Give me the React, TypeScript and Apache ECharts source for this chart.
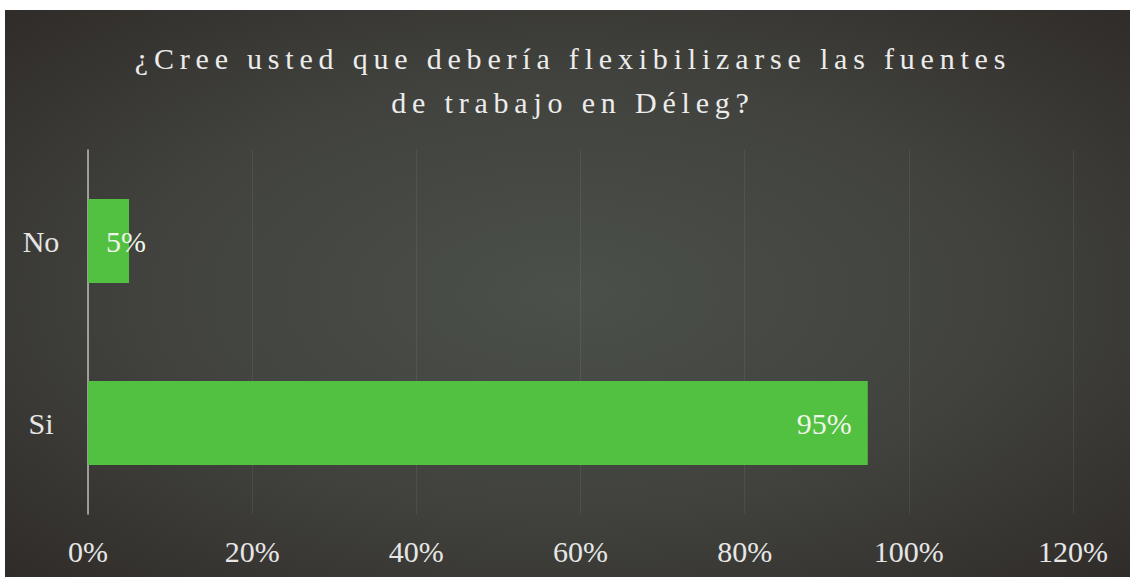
import React, { useEffect, useRef } from "react";
import * as echarts from "echarts";

const titleLines = ["¿Cree usted que debería flexibilizarse las fuentes", "de trabajo en Déleg?"];
const categories = ["Si", "No"];
const values = [95, 5];
const xTicks = { min: 0, max: 120, interval: 20 };

export default function App() {
  const ref = useRef<HTMLDivElement>(null);
  useEffect(() => {
    if (!ref.current) return;
    const chart = echarts.init(ref.current, null, { renderer: "svg" });
    const serif = "Times New Roman";
    chart.setOption({
      animation: false,
      backgroundColor: "#ffffff",
      graphic: [
        {
          type: "rect",
          z: -10,
          silent: true,
          shape: { x: 5, y: 10, width: 1125, height: 567 },
          style: {
            fill: new echarts.graphic.RadialGradient(0.5, 0.5, 0.7, [
              { offset: 0, color: "#4b504a" },
              { offset: 0.55, color: "#41423d" },
              { offset: 1, color: "#302c29" },
            ]),
          },
        },
      ],
      title: {
        text: titleLines.join("\n"),
        left: 568,
        textAlign: "center",
        top: 31,
        textStyle: {
          color: "#ececec",
          fontFamily: serif,
          fontSize: 30,
          fontWeight: "normal",
          lineHeight: 44,
        },
      },
      grid: { left: 88, right: 57, top: 150, bottom: 63, containLabel: false },
      xAxis: {
        type: "value",
        min: xTicks.min,
        max: xTicks.max,
        interval: xTicks.interval,
        axisLine: { show: false },
        axisTick: { show: false },
        splitLine: { show: true, lineStyle: { color: "rgba(255,255,255,0.07)", width: 1 } },
        axisLabel: {
          color: "#e6e6e6",
          fontFamily: serif,
          fontSize: 30,
          margin: 22,
          formatter: (v: number) => v + "%",
        },
      },
      yAxis: {
        type: "category",
        data: categories,
        axisLine: { show: true, lineStyle: { color: "#bdbdbd", width: 1.5 } },
        axisTick: { show: false },
        axisLabel: {
          color: "#e6e6e6",
          fontFamily: serif,
          fontSize: 30,
          align: "center",
          margin: 47,
        },
      },
      series: [
        {
          type: "bar",
          barWidth: 84,
          itemStyle: { color: "#52c040" },
          data: values.map((v) => ({
            value: v,
            label: {
              show: true,
              position: v > 50 ? "insideRight" : "insideLeft",
              distance: v > 50 ? 16 : 18,
              color: "#eef5ea",
              fontFamily: serif,
              fontSize: 30,
              formatter: (p: any) => p.value + "%",
            },
          })),
        },
      ],
    });
    const applySpacing = () => {
      const texts = ref.current?.querySelectorAll("text") || [];
      texts.forEach((t) => {
        const c = t.textContent || "";
        if (titleLines.some((l) => c.includes(l) || (l.includes(c) && c.length > 5))) {
          t.setAttribute("letter-spacing", "5.8");
          t.style.letterSpacing = "5.8px";
        }
      });
    };
    applySpacing();
    chart.on("finished", applySpacing);
    return () => chart.dispose();
  }, []);
  return <div ref={ref} style={{ position: "fixed", left: 0, top: 0, width: 1130, height: 577 }} />;
}
